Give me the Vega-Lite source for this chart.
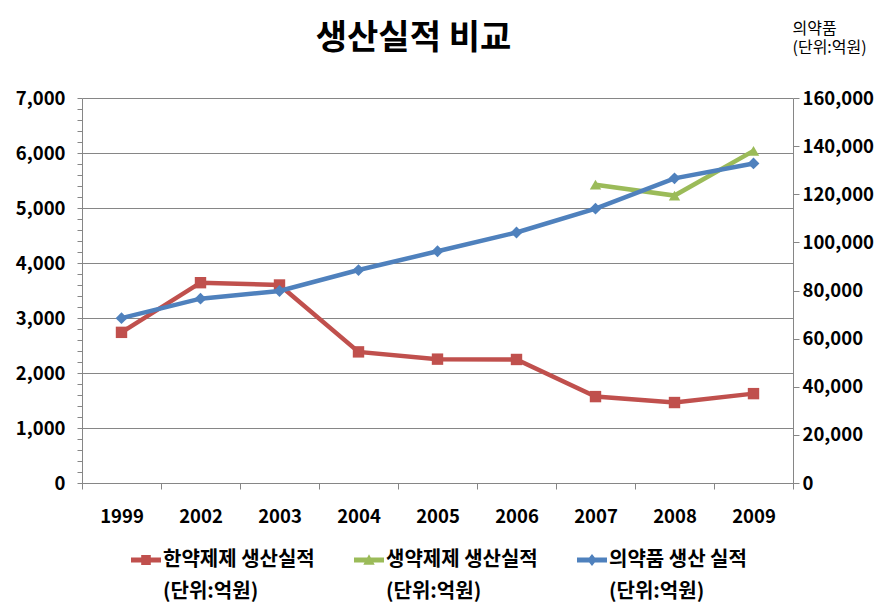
{
  "$schema": "https://vega.github.io/schema/vega-lite/v6.json",
  "width": 711,
  "height": 385,
  "autosize": {"type": "none"},
  "padding": {"left": 82, "top": 98, "right": 87, "bottom": 124},
  "background": "white",
  "title": {"text": "생산실적 비교", "fontSize": 34, "fontWeight": "bold", "font": "Noto Sans CJK KR", "color": "#000000", "anchor": "middle", "frame": "group", "dx": -24, "offset": 0, "dy": 36},
  "config": {
    "font": "Noto Sans CJK KR",
    "view": {"stroke": null},
    "style": {"guide-label": {"lineHeight": 32}},
    "axis": {"domainColor": "#868686", "tickColor": "#868686", "gridColor": "#868686", "labelColor": "#000000", "labelFont": "Noto Sans CJK KR", "labelFontSize": 18.5, "labelFontWeight": "bold", "domainWidth": 1, "tickWidth": 1, "gridWidth": 1}
  },
  "data": {"values": [
    {"year": "1999", "series": "한약제제 생산실적", "value": 2739},
    {"year": "2002", "series": "한약제제 생산실적", "value": 3642},
    {"year": "2003", "series": "한약제제 생산실적", "value": 3600},
    {"year": "2004", "series": "한약제제 생산실적", "value": 2384},
    {"year": "2005", "series": "한약제제 생산실적", "value": 2252},
    {"year": "2006", "series": "한약제제 생산실적", "value": 2246},
    {"year": "2007", "series": "한약제제 생산실적", "value": 1571},
    {"year": "2008", "series": "한약제제 생산실적", "value": 1463},
    {"year": "2009", "series": "한약제제 생산실적", "value": 1625},
    {"year": "2007", "series": "생약제제 생산실적", "value": 5424},
    {"year": "2008", "series": "생약제제 생산실적", "value": 5226},
    {"year": "2009", "series": "생약제제 생산실적", "value": 6038},
    {"year": "1999", "series": "의약품 생산 실적", "value": 68500},
    {"year": "2002", "series": "의약품 생산 실적", "value": 76600},
    {"year": "2003", "series": "의약품 생산 실적", "value": 79800},
    {"year": "2004", "series": "의약품 생산 실적", "value": 88500},
    {"year": "2005", "series": "의약품 생산 실적", "value": 96300},
    {"year": "2006", "series": "의약품 생산 실적", "value": 104100},
    {"year": "2007", "series": "의약품 생산 실적", "value": 114000},
    {"year": "2008", "series": "의약품 생산 실적", "value": 126600},
    {"year": "2009", "series": "의약품 생산 실적", "value": 132800}
  ]},
  "encoding": {
    "x": {"field": "year", "type": "ordinal", "scale": {"type": "band", "paddingInner": 0, "paddingOuter": 0},
      "axis": {"title": null, "labelAngle": 0, "tickBand": "extent", "tickSize": 6, "labelPadding": 18, "grid": false}}
  },
  "layer": [
    {
      "transform": [{"filter": "datum.series != '의약품 생산 실적'"}],
      "encoding": {
        "y": {"field": "value", "type": "quantitative", "scale": {"domain": [0, 7000]},
          "axis": {"title": null, "values": [0,200,400,600,800,1000,1200,1400,1600,1800,2000,2200,2400,2600,2800,3000,3200,3400,3600,3800,4000,4200,4400,4600,4800,5000,5200,5400,5600,5800,6000,6200,6400,6600,6800,7000],
            "labelExpr": "datum.value % 1000 === 0 ? datum.label : ''", "labelOverlap": false, "grid": true,
            "gridOpacity": {"condition": {"test": "datum.value % 1000 === 0", "value": 1}, "value": 0},
            "tickSize": 5, "labelPadding": 12}},
        "color": {"field": "series", "type": "nominal",
          "scale": {"domain": ["한약제제 생산실적", "생약제제 생산실적", "의약품 생산 실적"], "range": ["#C0504D", "#9BBB59", "#4F81BD"]},
          "legend": null}
      },
      "layer": [
        {"mark": {"type": "point", "filled": true, "opacity": 0, "strokeWidth": 0},
          "encoding": {
            "color": {"field": "series", "type": "nominal",
              "scale": {"domain": ["한약제제 생산실적", "생약제제 생산실적", "의약품 생산 실적"], "range": ["#C0504D", "#9BBB59", "#4F81BD"]},
              "legend": {"title": null, "orient": "none", "legendX": 49, "legendY": 447, "direction": "horizontal", "columns": 3, "columnPadding": 39, "padding": 0, "symbolSize": 900, "symbolOpacity": 1, "symbolStrokeWidth": 0, "labelFontSize": 20, "labelFontWeight": "bold", "labelColor": "#000000", "labelOffset": 2, "labelLimit": 400, "labelExpr": "[datum.label, '(단위:억원)']"}},
            "shape": {"field": "series", "type": "nominal",
              "scale": {"domain": ["한약제제 생산실적", "생약제제 생산실적", "의약품 생산 실적"], "range": ["M-1,-0.17H1V0.17H-1Z M-0.32,-0.34H0.32V0.34H-0.32Z", "M-1,-0.17H1V0.17H-1Z M0,-0.38L0.38,0.32H-0.38Z", "M-1,-0.17H1V0.17H-1Z M0,-0.4L0.32,0L0,0.4L-0.32,0Z"]},
              "legend": {"title": null, "orient": "none", "legendX": 49, "legendY": 447, "direction": "horizontal", "columns": 3, "columnPadding": 39, "padding": 0, "symbolSize": 900, "symbolOpacity": 1, "symbolStrokeWidth": 0, "labelFontSize": 20, "labelFontWeight": "bold", "labelColor": "#000000", "labelOffset": 2, "labelLimit": 400, "labelExpr": "[datum.label, '(단위:억원)']"}}
          }},
        {"mark": {"type": "line", "strokeWidth": 4.5}},
        {"transform": [{"filter": "datum.series == '한약제제 생산실적'"}], "mark": {"type": "point", "shape": "square", "filled": true, "size": 130, "opacity": 1}},
        {"transform": [{"filter": "datum.series == '생약제제 생산실적'"}], "mark": {"type": "point", "shape": "triangle-up", "filled": true, "size": 130, "opacity": 1}}
      ]
    },
    {
      "transform": [{"filter": "datum.series == '의약품 생산 실적'"}],
      "encoding": {
        "y": {"field": "value", "type": "quantitative", "scale": {"domain": [0, 160000]},
          "axis": {"orient": "right", "title": ["의약품", "(단위:억원)"], "titleAngle": 0, "titleAlign": "left", "titleBaseline": "top", "titleX": -1, "titleY": -78, "titleFontSize": 16, "titleFontWeight": "normal", "titleColor": "#000000", "titleLineHeight": 19,
            "values": [0,20000,40000,60000,80000,100000,120000,140000,160000], "grid": false, "tickSize": 6, "labelPadding": 3}},
        "color": {"field": "series", "type": "nominal",
          "scale": {"domain": ["한약제제 생산실적", "생약제제 생산실적", "의약품 생산 실적"], "range": ["#C0504D", "#9BBB59", "#4F81BD"]},
          "legend": null}
      },
      "layer": [
        {"mark": {"type": "line", "strokeWidth": 4.5}},
        {"mark": {"type": "point", "shape": "diamond", "filled": true, "size": 140, "opacity": 1}}
      ]
    }
  ],
  "resolve": {"scale": {"y": "independent"}}
}
